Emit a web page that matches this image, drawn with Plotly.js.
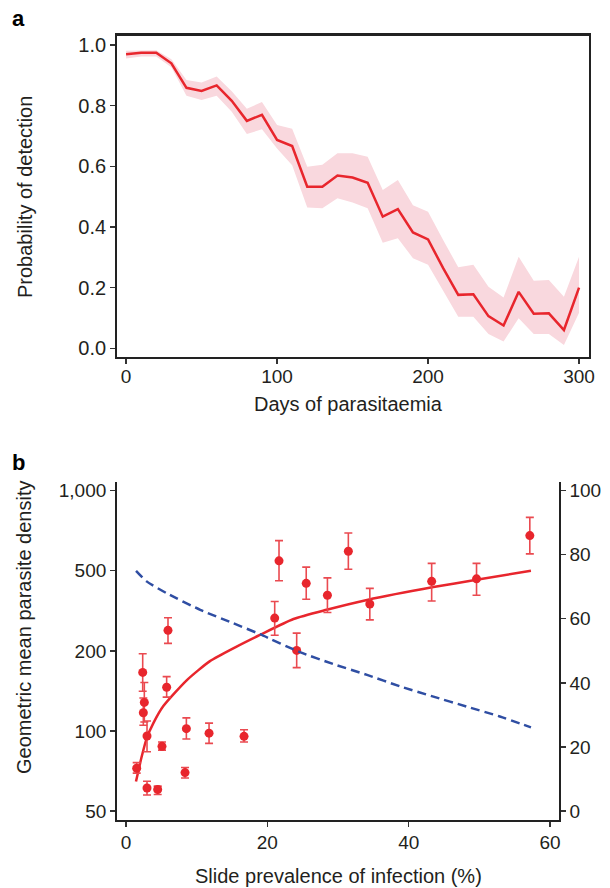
<!DOCTYPE html>
<html>
<head>
<meta charset="utf-8">
<script src="https://cdn.plot.ly/plotly-3.0.1.min.js"></script>
<style>
  html, body { margin: 0; padding: 0; background: #fff; }
  #chart { width: 610px; height: 888px; }
</style>
</head>
<body>
<div id="chart"></div>
<script>
// ---------- Panel a data ----------
const days = [0,10,20,30,40,50,60,70,80,90,100,110,120,130,140,150,160,170,180,190,200,210,220,230,240,250,260,270,280,290,300];
const probDetect = [0.970,0.975,0.975,0.940,0.859,0.849,0.867,0.816,0.750,0.770,0.687,0.667,0.533,0.533,0.570,0.563,0.546,0.434,0.459,0.382,0.359,0.264,0.176,0.178,0.106,0.075,0.186,0.114,0.115,0.060,0.200];
const probUpper = [0.981,0.983,0.983,0.953,0.885,0.877,0.896,0.848,0.790,0.812,0.736,0.724,0.599,0.605,0.643,0.643,0.632,0.522,0.555,0.472,0.450,0.357,0.267,0.275,0.203,0.167,0.302,0.223,0.225,0.170,0.302];
const probLower = [0.956,0.962,0.962,0.927,0.833,0.819,0.833,0.780,0.707,0.722,0.659,0.604,0.464,0.462,0.495,0.481,0.462,0.348,0.363,0.297,0.275,0.187,0.104,0.104,0.047,0.022,0.099,0.047,0.047,0.011,0.117];

// ---------- Panel b data ----------
const prevalence = [1.51,2.36,2.59,2.45,2.97,2.97,4.48,5.09,5.75,5.94,8.35,8.54,11.75,16.7,21.04,21.65,24.15,25.5,28.5,31.46,34.5,43.25,49.6,57.14];
const density    = [72.4,166,128,117,95.7,61.0,60.2,87.5,146,253,69.7,102,98.1,95.4,291,545,201,433,378,592,342,443,456,678];
const densityHi  = [76.0,195,152,133,109,64.7,62.0,90.8,160,292,72.9,112,107,101,352,649,245,516,461,694,409,533,533,794];
const densityLo  = [69.4,141,108,105,83.5,57.4,57.7,84.7,134,218,66.5,93.3,89.8,90.8,239,446,173,361,310,507,285,354,378,579];

const fitPrev = [1.41,2.22,2.92,3.87,5.28,8.58,11.88,15.65,18.95,23.7,28.4,34.1,43.5,49.6,57.3];
const fitDensity = [64.5,80.1,93.8,107,124,155,183,210,240,288,320,358,415,451,500];

const sensPrev = [1.42,2.92,5.75,10.5,15.2,18.96,24.6,29.3,34.1,38.8,43.5,48.2,52.9,57.3];
const sensitivity = [75.0,71.7,68.0,62.8,58.6,55.2,49.6,45.9,42.5,38.9,35.7,32.6,29.5,26.1];

// Left-axis tick labels of panel b (evenly spaced in the original figure)
const densTickVals = [50,100,200,500,1000];
const densTickText = ['50','100','200','500','1,000'];
const densTickPos  = [0,25,50,75,100];
const rightTickVals = [0,20,40,60,80,100];
const dayTicks = [0,100,200,300];
const probTicks = [0,0.2,0.4,0.6,0.8,1.0];
const prevTicks = [0,20,40,60];

// Map a density onto the left axis scale (log interpolation between labelled ticks)
function densPos(d) {
  let i = 0;
  while (i < densTickVals.length - 2 && d > densTickVals[i+1]) i++;
  const a = densTickVals[i], b = densTickVals[i+1];
  return densTickPos[i] + (densTickPos[i+1]-densTickPos[i]) * Math.log(d/a) / Math.log(b/a);
}

const RED = '#e8262d';
const ERR = '#ea4a50';
const BLUE = '#2f4ea3';
const FONT = 'Liberation Sans, Arial, Helvetica, sans-serif';
const TXT = '#231f20';

const traces = [
  { x: days, y: probUpper, type: 'scatter', mode: 'lines', line: {width: 0, color: 'rgba(0,0,0,0)'},
    xaxis: 'x', yaxis: 'y', hoverinfo: 'skip', showlegend: false },
  { x: days, y: probLower, type: 'scatter', mode: 'lines', line: {width: 0, color: 'rgba(0,0,0,0)'},
    fill: 'tonexty', fillcolor: '#f9d8de', xaxis: 'x', yaxis: 'y', hoverinfo: 'skip', showlegend: false },
  { x: days, y: probDetect, type: 'scatter', mode: 'lines', line: {width: 2.5, color: RED},
    xaxis: 'x', yaxis: 'y', showlegend: false },

  { x: sensPrev, y: sensitivity, type: 'scatter', mode: 'lines',
    line: {width: 2.5, color: BLUE, dash: '9px,5px', shape: 'spline', smoothing: 0.6},
    xaxis: 'x2', yaxis: 'y4', showlegend: false },
  { x: fitPrev, y: fitDensity.map(densPos), type: 'scatter', mode: 'lines',
    line: {width: 2.5, color: RED, shape: 'spline', smoothing: 0.6},
    xaxis: 'x2', yaxis: 'y3', showlegend: false },
  { x: prevalence, y: density.map(densPos), type: 'scatter', mode: 'markers',
    marker: {size: 9, color: RED},
    error_y: { type: 'data', symmetric: false,
      array: densityHi.map((h,i) => densPos(h) - densPos(density[i])),
      arrayminus: densityLo.map((l,i) => densPos(density[i]) - densPos(l)),
      color: ERR, thickness: 1.6, width: 4 },
    xaxis: 'x2', yaxis: 'y3', showlegend: false }
];

const tickFontA = {family: FONT, size: 20, color: TXT};
const tickFont = {family: FONT, size: 19, color: TXT};
const titleFont = {family: FONT, size: 20, color: TXT};

function ann(text, x, y, angle) {
  return {text: text, xref: 'paper', yref: 'paper', x: x/610, y: 1 - y/888,
          xanchor: 'center', yanchor: 'middle', textangle: angle, showarrow: false, font: titleFont};
}

const layout = {
  width: 610, height: 888,
  margin: {l: 0, r: 0, t: 0, b: 0},
  paper_bgcolor: '#fff', plot_bgcolor: '#fff',
  showlegend: false,
  font: {family: FONT, color: TXT},
  xaxis: {
    domain: [0.1923, 0.9651], anchor: 'y', range: [-5.8, 306.4],
    tickvals: dayTicks, ticks: 'outside', ticklen: 5, tickwidth: 1.3, tickcolor: '#333',
    showline: true, linecolor: '#222', linewidth: 2.2, mirror: true,
    showgrid: false, zeroline: false, tickfont: tickFont, ticklabelstandoff: -4
  },
  yaxis: {
    domain: [0.5983, 0.9598], anchor: 'x', range: [-0.028, 1.031],
    tickvals: probTicks, tickformat: '.1f',
    ticks: 'outside', ticklen: 5, tickwidth: 1.3, tickcolor: '#333',
    showline: true, linecolor: '#222', linewidth: 2.2, mirror: true,
    showgrid: false, zeroline: false, tickfont: tickFontA
  },
  xaxis2: {
    domain: [0.1913, 0.9164], anchor: 'y3', range: [-1.32, 61.27],
    tickvals: prevTicks, ticks: 'outside', ticklen: 5, tickwidth: 1.3, tickcolor: '#333',
    showline: true, linecolor: '#222', linewidth: 1.6,
    showgrid: false, zeroline: false, tickfont: tickFont
  },
  yaxis3: {
    domain: [0.0766, 0.4575], anchor: 'x2', range: [-2.81, 102.81],
    tickvals: densTickPos, ticktext: densTickText,
    ticks: 'outside', ticklen: 5, tickwidth: 1.3, tickcolor: '#333',
    showline: true, linecolor: '#222', linewidth: 1.6,
    showgrid: false, zeroline: false, tickfont: tickFont
  },
  yaxis4: {
    domain: [0.0766, 0.4575], anchor: 'x2', overlaying: 'y3', side: 'right', range: [-2.81, 102.81],
    tickvals: rightTickVals, ticks: 'outside', ticklen: 5, tickwidth: 1.3, tickcolor: '#333',
    showline: true, linecolor: '#222', linewidth: 1.6,
    showgrid: false, zeroline: false, tickfont: tickFont
  },
  annotations: [
    {text: '<b>a</b>', xref: 'paper', yref: 'paper', x: 10/610, y: 1 - 18/888, xanchor: 'left', yanchor: 'middle',
     showarrow: false, font: {family: FONT, size: 22, color: '#000'}},
    {text: '<b>b</b>', xref: 'paper', yref: 'paper', x: 10/610, y: 1 - 462/888, xanchor: 'left', yanchor: 'middle',
     showarrow: false, font: {family: FONT, size: 22, color: '#000'}},
    ann('Probability of detection', 25, 197, -90),
    ann('Days of parasitaemia', 348, 404, 0),
    ann('Geometric mean parasite density', 24, 628, -90),
    {text: 'Slide prevalence of infection (%)', xref: 'paper', yref: 'paper', x: 338/610, y: 0,
     xanchor: 'center', yanchor: 'bottom', borderpad: 0, showarrow: false, font: titleFont}
  ]
};

Plotly.newPlot('chart', traces, layout, {staticPlot: true, displayModeBar: false});
</script>
</body>
</html>
